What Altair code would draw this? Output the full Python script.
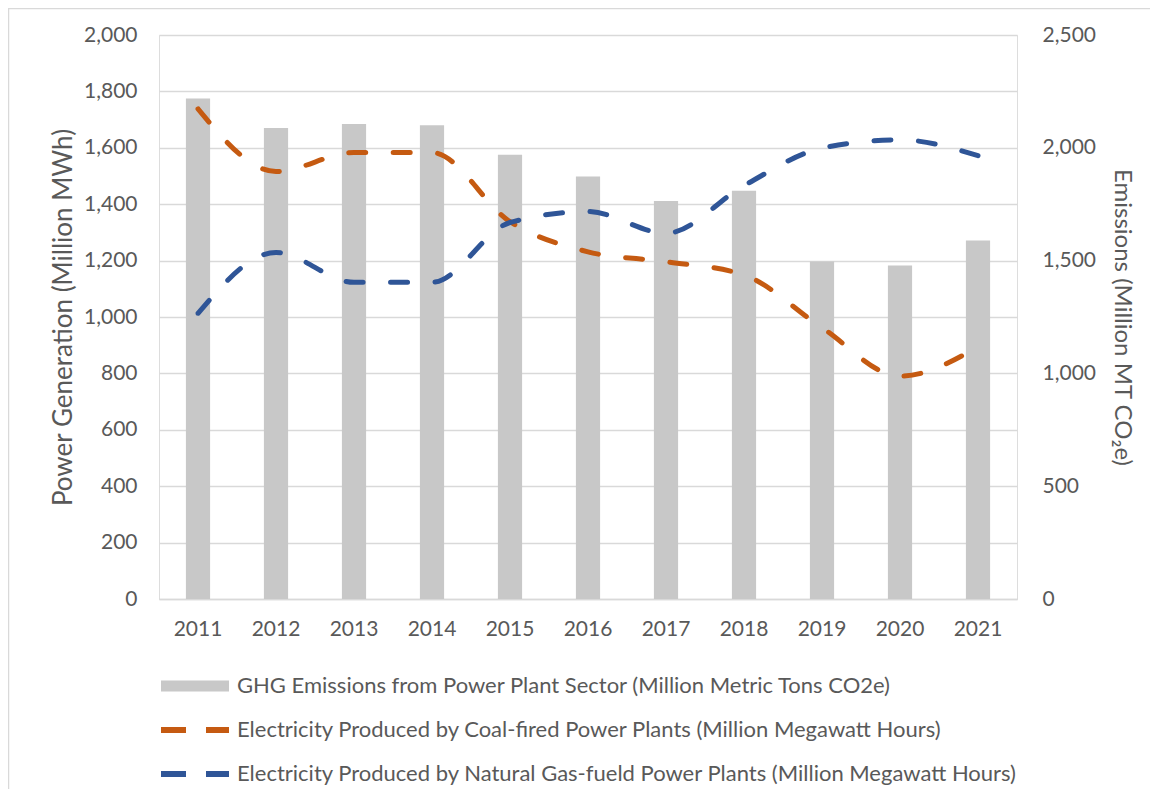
import altair as alt
import pandas as pd

years = [str(y) for y in range(2011, 2022)]
ghg = [2218, 2088, 2106, 2100, 1969, 1873, 1764, 1810, 1496, 1478, 1589]
coal = [1738, 1516, 1583, 1583, 1338, 1231, 1196, 1149, 962, 790, 894]
gas = [1013, 1229, 1123, 1123, 1335, 1374, 1297, 1466, 1599, 1628, 1572]

S_GHG = "GHG Emissions from Power Plant Sector (Million Metric Tons CO2e)"
S_COAL = "Electricity Produced by Coal-fired Power Plants (Million Megawatt Hours)"
S_GAS = "Electricity Produced by Natural Gas-fueld Power Plants (Million Megawatt Hours)"
series = [S_GHG, S_COAL, S_GAS]
colors = ["#c8c8c8", "#c55a11", "#2f5597"]

left_ticks = list(range(0, 2001, 200))
right_ticks = list(range(0, 2501, 500))

FONT = "Lato"
GREY = "#595959"

bars_df = pd.DataFrame({"year": years, "value": ghg, "series": S_GHG})
lines_df = pd.concat([
    pd.DataFrame({"year": years, "value": coal, "series": S_COAL}),
    pd.DataFrame({"year": years, "value": gas, "series": S_GAS}),
])

xenc = alt.X("year:N", title=None, sort=years,
             scale=alt.Scale(paddingInner=0.69, paddingOuter=0.345),
             axis=alt.Axis(labelAngle=0, ticks=False, domain=True, domainColor="#d9d9d9",
                           domainWidth=1.5, labelPadding=19, labelFont=FONT, labelFontSize=21,
                           labelColor=GREY, grid=False))

is_ghg = f"datum.value === '{S_GHG}'"
color_enc = alt.Color("series:N", scale=alt.Scale(domain=series, range=colors),
    legend=alt.Legend(
        title=None, orient="none", legendX=25, legendY=640, direction="vertical",
        symbolType="stroke", symbolSize=4624,
        symbolStrokeWidth={"expr": f"{is_ghg} ? 11 : 6"},
        symbolDash={"expr": f"{is_ghg} ? [1, 0] : [25, 20]"},
        symbolStrokeColor={"expr": "scale('color', datum.value)"},
        symbolOpacity=1, gridAlign="all",
        labelFont=FONT, labelFontSize=22, labelColor=GREY, labelOffset=31,
        rowPadding=10, labelLimit=1000, padding=0))

frame = alt.Chart(pd.DataFrame({"f": [0]})).mark_rect(
    fill=None, stroke="#d9d9d9", strokeWidth=1.5
).encode(x=alt.value(-150.5), x2=alt.value(1100), y=alt.value(-26.5), y2=alt.value(900))

bars = alt.Chart(bars_df).mark_bar(color="#c8c8c8").encode(
    x=xenc,
    y=alt.Y("value:Q", scale=alt.Scale(domain=[0, 2500], nice=False),
            axis=alt.Axis(orient="right", values=right_ticks, format=",d", grid=False,
                          domain=False, ticks=False, labelPadding=25, labelFont=FONT,
                          labelFontSize=21, labelColor=GREY,
                          title="Emissions (Million MT CO\u2082e)", titleFont=FONT,
                          titleFontSize=24, titleFontWeight="normal", titleColor=GREY,
                          titleX=104, titleY=282, titleBaseline="middle", titleAngle=90)),
    color=color_enc,
)

lines = alt.Chart(lines_df).mark_line(
    strokeWidth=5, strokeDash=[17, 27.5], strokeCap="round", interpolate="monotone"
).encode(
    x=xenc,
    y=alt.Y("value:Q", scale=alt.Scale(domain=[0, 2000], nice=False),
            axis=alt.Axis(orient="left", values=left_ticks, format=",d", grid=True,
                          gridColor="#d9d9d9", gridWidth=1.5, domain=False, ticks=False,
                          labelPadding=22, labelFont=FONT, labelFontSize=21, labelColor=GREY,
                          title="Power Generation (Million MWh)", titleFont=FONT,
                          titleFontSize=26, titleFontWeight="normal", titleColor=GREY,
                          titleX=-96, titleY=282, titleBaseline="middle", titleAngle=-90)),
    color=color_enc,
    detail="series:N",
)

chart = alt.layer(frame, bars, lines).resolve_scale(y="independent").properties(
    width=858, height=564,
    autosize=alt.AutoSizeParams(type="none"),
    padding={"left": 151, "top": 27, "right": 133, "bottom": 190},
).configure_view(stroke=None).configure(background="white")

chart.save("out.html", embed_options={"renderer": "svg", "actions": False})
